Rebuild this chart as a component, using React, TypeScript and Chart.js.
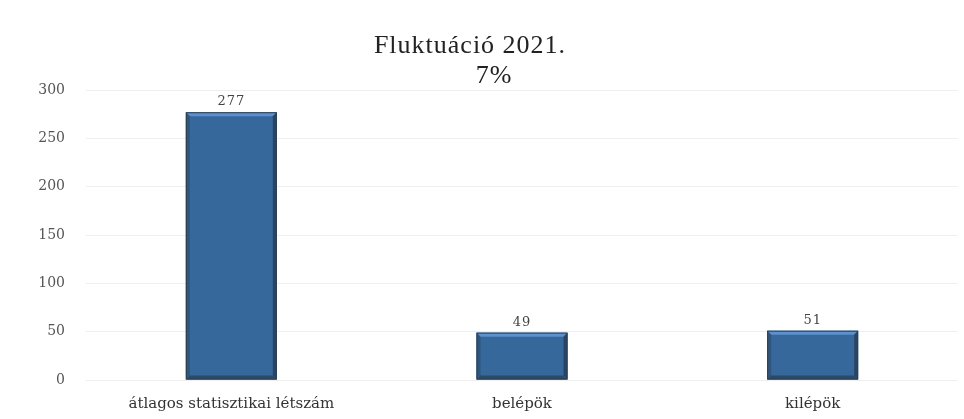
import React, { useEffect, useRef } from "react";
import { Chart, registerables } from "chart.js";

Chart.register(...registerables);

const categories = ["átlagos statisztikai létszám", "belépök", "kilépök"];
const values = [277, 49, 51];
const titleLines = ["Fluktuáció 2021.", "7%"];
const yMax = 300;
const yStep = 50;

const bevelPlugin = {
  id: "bevelBars",
  afterDatasetsDraw(chart: any) {
    const ctx = chart.ctx;
    const meta = chart.getDatasetMeta(0);
    meta.data.forEach((bar: any) => {
      const w = bar.width;
      const l = bar.x - w / 2;
      const r = bar.x + w / 2;
      const t = bar.y;
      const b = bar.base;
      const e = 4;
      ctx.save();
      ctx.fillStyle = "#36689c";
      ctx.fillRect(l, t, w, b - t);
      const poly = (pts: number[][], c: string) => {
        ctx.beginPath();
        ctx.moveTo(pts[0][0], pts[0][1]);
        for (let i = 1; i < pts.length; i++) ctx.lineTo(pts[i][0], pts[i][1]);
        ctx.closePath();
        ctx.fillStyle = c;
        ctx.fill();
      };
      poly([[l, t], [r, t], [r - e, t + e], [l + e, t + e]], "#5e90cc");
      poly([[l, t], [l + e, t + e], [l + e, b - e], [l, b]], "#30567c");
      poly([[r, t], [r, b], [r - e, b - e], [r - e, t + e]], "#2a4562");
      poly([[l, b], [l + e, b - e], [r - e, b - e], [r, b]], "#2b4a69");
      ctx.strokeStyle = "#2b3f55";
      ctx.lineWidth = 1;
      ctx.strokeRect(l + 0.5, t + 0.5, w - 1, b - t - 1);
      ctx.restore();
    });
  },
};

const labelsPlugin = {
  id: "valueLabels",
  afterDraw(chart: any) {
    const ctx = chart.ctx;
    const meta = chart.getDatasetMeta(0);
    ctx.save();
    ctx.letterSpacing = "1px";
    ctx.font = "13px 'DejaVu Serif'";
    ctx.fillStyle = "#444";
    ctx.textAlign = "center";
    ctx.textBaseline = "alphabetic";
    meta.data.forEach((bar: any, i: number) => {
      ctx.fillText(String(values[i]), bar.x, bar.y - 7);
    });
    ctx.font = "26px 'Liberation Serif'";
    ctx.fillStyle = "#222";
    ctx.fillText(titleLines[0], 470, 53);
    ctx.fillText(titleLines[1], 494, 83);
    ctx.restore();
  },
};

export default function App() {
  const ref = useRef<HTMLCanvasElement | null>(null);
  useEffect(() => {
    document.body.style.margin = "0";
    const canvas = ref.current!;
    const ctx0 = canvas.getContext("2d") as any;
    ctx0.letterSpacing = "1px";
    const chart = new Chart(canvas, {
      type: "bar",
      data: {
        labels: categories,
        datasets: [
          {
            data: values,
            backgroundColor: "rgba(0,0,0,0)",
            borderWidth: 0,
            categoryPercentage: 1,
            barPercentage: 0.313,
          },
        ],
      },
      plugins: [bevelPlugin, labelsPlugin],
      options: {
        responsive: false,
        animation: false,
        devicePixelRatio: 1,
        layout: { padding: { top: 90, left: 0, right: 6, bottom: 0 } },
        plugins: {
          legend: { display: false },
          title: { display: false },
          tooltip: { enabled: false },
        },
        scales: {
          x: {
            grid: { display: false, drawTicks: false },
            border: { display: false },
            ticks: {
              padding: 15,
              color: "#333",
              font: { family: "'DejaVu Serif'", size: 15 },
            },
            afterFit: (s: any) => {
              s.height = 39;
            },
          },
          y: {
            min: 0,
            max: yMax,
            grid: { color: "#efefef", drawTicks: false },
            border: { display: false },
            ticks: {
              stepSize: yStep,
              padding: 21,
              color: "#555",
              font: { family: "'DejaVu Serif'", size: 14 },
            },
            afterFit: (s: any) => {
              s.width = 86;
            },
          },
        },
      },
    });
    return () => chart.destroy();
  }, []);
  return (
    <div style={{ width: 964, height: 419, background: "#fff" }}>
      <canvas ref={ref} width={964} height={419} style={{ display: "block" }} />
    </div>
  );
}
